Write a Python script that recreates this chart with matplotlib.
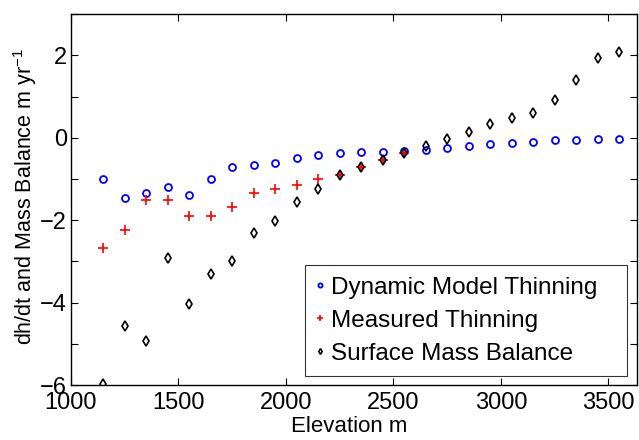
import matplotlib.pyplot as plt
from matplotlib.ticker import MultipleLocator

plt.rcParams['font.family'] = ['Liberation Sans', 'DejaVu Sans']
plt.rcParams['mathtext.fontset'] = 'custom'
plt.rcParams['mathtext.rm'] = 'Liberation Sans'
plt.rcParams['mathtext.it'] = 'Liberation Sans'

elev = [1150, 1250, 1350, 1450, 1550, 1650, 1750, 1850, 1950, 2050, 2150, 2250, 2350,
        2450, 2550, 2650, 2750, 2850, 2950, 3050, 3150, 3250, 3350, 3450, 3550]
dynamic = [-0.99, -1.46, -1.33, -1.19, -1.39, -1.01, -0.70, -0.67, -0.61, -0.49, -0.43, -0.36, -0.35,
           -0.35, -0.32, -0.30, -0.25, -0.20, -0.16, -0.14, -0.11, -0.06, -0.06, -0.03, -0.02]
elev_meas = [1150, 1250, 1350, 1450, 1550, 1650, 1750, 1850, 1950, 2050, 2150, 2250, 2350, 2450, 2550]
measured = [-2.68, -2.24, -1.52, -1.50, -1.89, -1.90, -1.69, -1.33, -1.25, -1.15, -0.99, -0.91, -0.70, -0.54, -0.37]
smb = [-5.98, -4.57, -4.93, -2.91, -4.04, -3.31, -2.99, -2.32, -2.01, -1.57, -1.25, -0.91, -0.70,
       -0.54, -0.38, -0.19, -0.02, 0.15, 0.33, 0.47, 0.59, 0.92, 1.40, 1.93, 2.09]

fig = plt.figure(figsize=(6.39, 4.40), dpi=100)
ax = fig.add_axes([0.111, 0.125, 0.886, 0.843])

ax.plot(elev, dynamic, 'o', color='blue', mfc='none', mew=1.3, ms=5, label='Dynamic Model Thinning')
ax.plot(elev_meas, measured, '+', color='red', mew=1.2, ms=7, label='Measured Thinning')
ax.plot(elev, smb, 'd', color='black', mfc='none', mew=1.2, ms=4.8, label='Surface Mass Balance')

ax.set_xlim(1000, 3633)
ax.set_ylim(-6, 3)
ax.set_xticks([1000, 1500, 2000, 2500, 3000, 3500])
ax.set_yticks([-6, -4, -2, 0, 2])
ax.yaxis.set_minor_locator(MultipleLocator(1))
ax.tick_params(which='both', direction='in', top=True, right=True, length=5, width=0.8)
ax.tick_params(axis='x', labelsize=17, pad=5)
ax.tick_params(axis='y', labelsize=17, pad=3)
for s in ax.spines.values():
    s.set_linewidth(1.0)

ax.set_xlabel('Elevation m', fontsize=16)
ax.xaxis.set_label_coords(0.491, -0.084)
ax.set_ylabel(r'dh/dt and Mass Balance m yr$^{-1}$', fontsize=15.5)
ax.yaxis.set_label_coords(-0.057, 0.509)

leg = ax.legend(loc='lower left', mode='expand', fontsize=17.5, frameon=True, fancybox=False,
                edgecolor='black', borderpad=0.47, labelspacing=0.45, handlelength=0.3,
                handletextpad=0.3, markerscale=0.6, borderaxespad=0,
                bbox_to_anchor=(0.413, 0.024, 0.569, 0.3))
leg.get_frame().set_linewidth(0.8)

fig.savefig('out.png', dpi=100)
